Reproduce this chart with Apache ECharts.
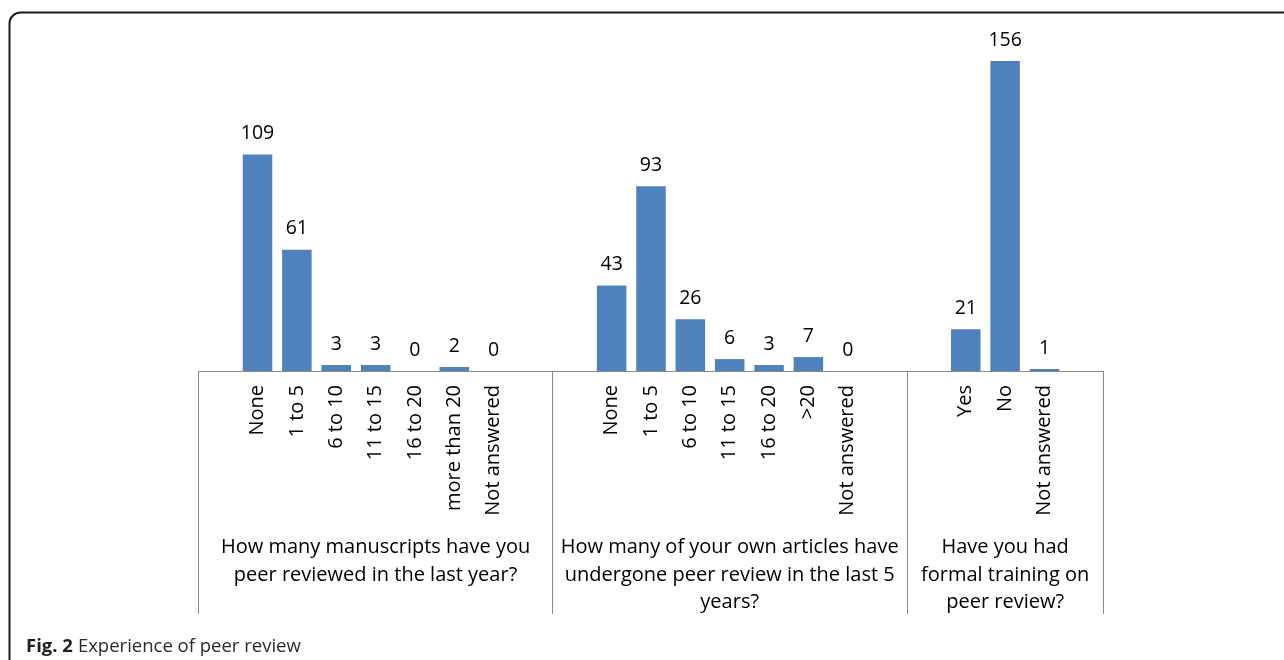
<!DOCTYPE html>
<html>
<head>
<meta charset="utf-8">
<script src="https://cdn.jsdelivr.net/npm/echarts@6/dist/echarts.min.js"></script>
<style>
html,body{margin:0;padding:0;background:#fff;}
#chart{width:1284px;height:660px;}
</style>
</head>
<body>
<div id="chart"></div>
<script>
// ---- data ----
const group1Title = 'How many manuscripts have you\npeer reviewed in the last year?';
const group1Cats = ['None', '1 to 5', '6 to 10', '11 to 15', '16 to 20', 'more than 20', 'Not answered'];
const group1Vals = [109, 61, 3, 3, 0, 2, 0];

const group2Title = 'How many of your own articles have\nundergone peer review in the last 5\nyears?';
const group2Cats = ['None', '1 to 5', '6 to 10', '11 to 15', '16 to 20', '>20', 'Not answered'];
const group2Vals = [43, 93, 26, 6, 3, 7, 0];

const group3Title = 'Have you had\nformal training on\npeer review?';
const group3Cats = ['Yes', 'No', 'Not answered'];
const group3Vals = [21, 156, 1];

const captionBold = 'Fig. 2';
const captionText = 'Experience of peer review';

// ---- build padded slot arrays (one empty slot before and after each group) ----
const groups = [
  {title: group1Title, cats: group1Cats, vals: group1Vals},
  {title: group2Title, cats: group2Cats, vals: group2Vals},
  {title: group3Title, cats: group3Cats, vals: group3Vals}
];
const slotCats = [], slotVals = [], slotTitles = [], groupStarts = [];
groups.forEach(g => {
  const start = slotCats.length;
  groupStarts.push(start);
  const n = g.cats.length + 2;
  const mid = start + Math.floor((n - 1) / 2);
  for (let i = 0; i < n; i++) {
    const idx = i - 1;
    const real = idx >= 0 && idx < g.cats.length;
    slotCats.push(real ? g.cats[idx] : ' '.repeat(start + i + 1));
    slotVals.push(real ? g.vals[idx] : null);
    slotTitles.push(start + i === mid ? g.title : ' '.repeat(start + i + 1));
  }
});

const FONT = 'Open Sans';
const GRAY = '#8a8a8a';

const chart = echarts.init(document.getElementById('chart'), null, {renderer: 'canvas'});
chart.setOption({
  animation: false,
  backgroundColor: '#ffffff',
  title: {
    left: 21,
    top: 632,
    text: '{b|' + captionBold + '} {r|' + captionText + '}',
    textStyle: {
      rich: {
        b: {fontFamily: FONT, fontWeight: 'bold', fontSize: 18.5, color: '#231f20'},
        r: {fontFamily: FONT, fontWeight: 'normal', fontSize: 18.5, color: '#2b2b2b'}
      }
    }
  },
  graphic: [{
    type: 'rect',
    shape: {x: 9.5, y: 12.5, width: 1300, height: 700, r: 11},
    style: {fill: 'none', stroke: '#1a1a1a', lineWidth: 2},
    silent: true
  }],
  grid: {
    left: 198.5,
    right: 180.5,
    top: 13.3,
    bottom: 289,
    containLabel: false,
    outerBoundsMode: 'none'
  },
  xAxis: [{
    type: 'category',
    data: slotCats,
    boundaryGap: true,
    position: 'bottom',
    axisLine: {show: true, lineStyle: {color: GRAY, width: 1}},
    axisTick: {
      show: true,
      length: 243,
      interval: function (index) { return groupStarts.indexOf(index) >= 0; },
      lineStyle: {color: GRAY, width: 1}
    },
    axisLabel: {
      interval: 0,
      rotate: 90,
      margin: 14,
      fontSize: 20,
      fontFamily: FONT,
      color: '#000'
    },
    splitLine: {show: false}
  }, {
    type: 'category',
    data: slotTitles,
    boundaryGap: true,
    position: 'bottom',
    axisLine: {show: false},
    axisTick: {show: false},
    axisLabel: {
      interval: 0,
      margin: 163,
      fontSize: 20,
      lineHeight: 27.5,
      fontFamily: FONT,
      color: '#000',
      align: 'center'
    },
    splitLine: {show: false}
  }],
  yAxis: {
    type: 'value',
    min: 0,
    max: 180,
    show: false,
    splitLine: {show: false}
  },
  series: [{
    type: 'bar',
    xAxisIndex: 0,
    data: slotVals,
    barCategoryGap: '25%',
    itemStyle: {color: '#4f81bd'},
    label: {
      show: true,
      position: 'top',
      distance: 11,
      fontSize: 19.5,
      fontFamily: FONT,
      color: '#000'
    }
  }]
});
</script>
</body>
</html>
